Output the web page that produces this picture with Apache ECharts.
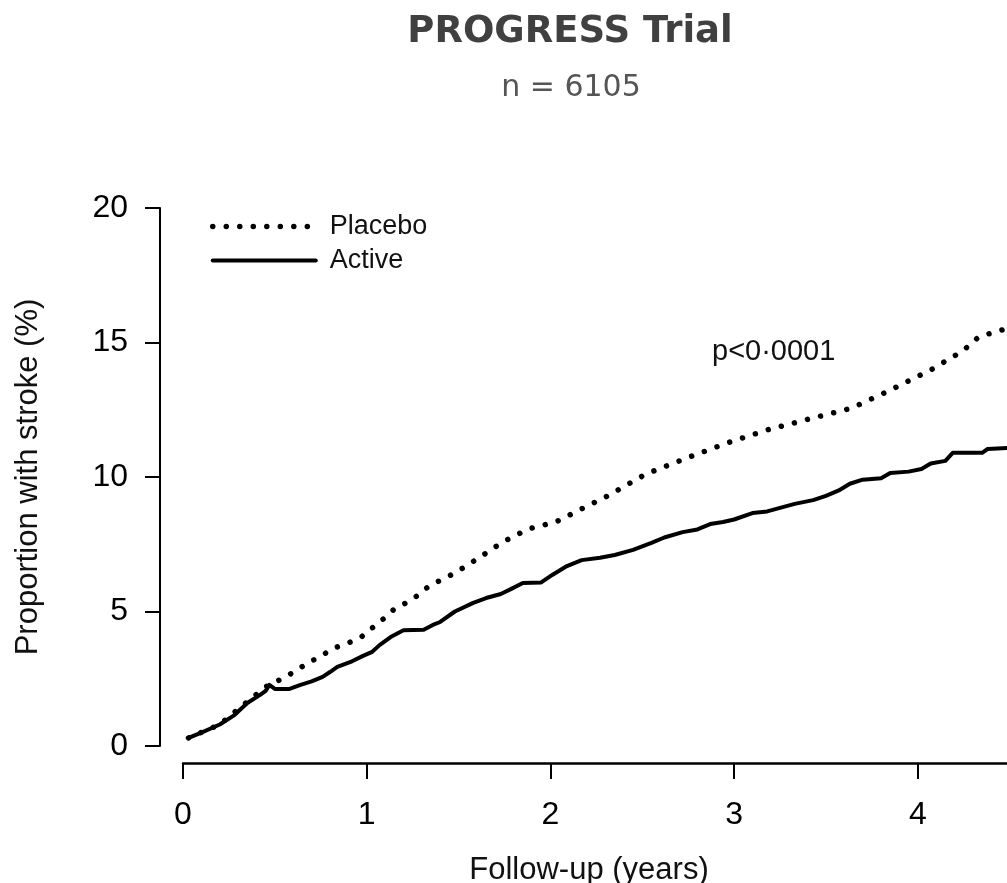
<!DOCTYPE html>
<html>
<head>
<meta charset="utf-8">
<script src="https://cdn.jsdelivr.net/npm/echarts@6/dist/echarts.min.js"></script>
<style>
  html, body { margin: 0; padding: 0; background: #fff; }
  #chart { width: 1007px; height: 883px; }
</style>
</head>
<body>
<div id="chart"></div>
<script>
// Cumulative stroke incidence (%) by follow-up time (years)
const placebo = [
  [0.03, 0.3], [0.2, 0.8], [0.35, 1.65], [0.45, 2.2], [0.56, 2.57], [0.62, 2.83],
  [0.69, 3.12], [0.76, 3.38], [0.82, 3.64], [0.9, 3.83], [0.97, 4.05], [1.03, 4.39],
  [1.09, 4.72], [1.15, 5.09], [1.25, 5.45], [1.34, 5.95], [1.48, 6.43], [1.61, 6.99],
  [1.74, 7.58], [1.88, 8.07], [2.03, 8.33], [2.18, 8.85], [2.31, 9.29], [2.52, 10.11],
  [2.74, 10.7], [2.96, 11.26], [3.18, 11.75], [3.41, 12.16], [3.64, 12.56], [3.85, 13.23],
  [4.07, 13.98], [4.2, 14.5], [4.27, 14.83], [4.33, 15.2], [4.4, 15.35], [4.5, 15.55]
];
const active = [
  [0.03, 0.3], [0.1, 0.5], [0.2, 0.8], [0.28, 1.15], [0.35, 1.6], [0.42, 1.9], [0.45, 2.05],
  [0.47, 2.27], [0.5, 2.12], [0.58, 2.12], [0.64, 2.27], [0.7, 2.4], [0.76, 2.57], [0.8, 2.75],
  [0.84, 2.94], [0.92, 3.15], [0.98, 3.35], [1.03, 3.5], [1.07, 3.75], [1.13, 4.05], [1.2, 4.3],
  [1.31, 4.32], [1.36, 4.5], [1.4, 4.61], [1.48, 5.0], [1.58, 5.32], [1.65, 5.5], [1.73, 5.65],
  [1.79, 5.85], [1.85, 6.06], [1.95, 6.08], [2.01, 6.36], [2.09, 6.69], [2.17, 6.91], [2.27, 7.0],
  [2.35, 7.1], [2.45, 7.29], [2.55, 7.55], [2.62, 7.75], [2.72, 7.95], [2.8, 8.05], [2.87, 8.25],
  [2.94, 8.33], [3.0, 8.42], [3.1, 8.66], [3.18, 8.72], [3.25, 8.85], [3.33, 9.0], [3.43, 9.14],
  [3.5, 9.3], [3.57, 9.5], [3.63, 9.75], [3.7, 9.9], [3.8, 9.95], [3.85, 10.15], [3.95, 10.2],
  [4.02, 10.3], [4.07, 10.5], [4.15, 10.6], [4.19, 10.9], [4.35, 10.9], [4.38, 11.04], [4.5, 11.08]
];
const seriesNames = ['Placebo', 'Active'];
const yTicks = [0, 5, 10, 15, 20];
const xTicks = [0, 1, 2, 3, 4, 5];

const chart = echarts.init(document.getElementById('chart'), null, { renderer: 'canvas' });

const axisFont = '"Liberation Sans", Arial, sans-serif';
const headFont = '"DejaVu Sans", sans-serif';

const dottedStyle = { color: '#000', width: 5.5, type: [0.01, 13.5], cap: 'round' };
const solidStyle = { color: '#000', width: 4, type: 'solid', cap: 'round', join: 'round' };

chart.setOption({
  animation: false,
  backgroundColor: '#ffffff',
  title: [
    {
      text: 'PROGRESS Trial',
      left: 565, top: 9, textAlign: 'center',
      textStyle: { fontFamily: headFont, fontWeight: 'bold', fontSize: 37, color: '#404040' }
    },
    {
      text: 'n = 6105',
      left: 566, top: 68, textAlign: 'center',
      textStyle: { fontFamily: headFont, fontWeight: 'normal', fontSize: 30, color: '#555555' }
    },
    {
      text: 'Follow-up (years)',
      left: 584, top: 850, textAlign: 'center',
      textStyle: { fontFamily: axisFont, fontWeight: 'normal', fontSize: 31, color: '#111' }
    },
    {
      text: 'p<0·0001',
      left: 707, top: 332,
      textStyle: { fontFamily: axisFont, fontWeight: 'normal', fontSize: 29, color: '#111' }
    }
  ],
  legend: {
    data: [
      { name: seriesNames[0], lineStyle: dottedStyle },
      { name: seriesNames[1], lineStyle: solidStyle }
    ],
    orient: 'vertical',
    left: 210, top: 213, padding: 0,
    itemWidth: 103, itemHeight: 14, itemGap: 7,
    itemStyle: { opacity: 0 },
    textStyle: { fontFamily: axisFont, fontSize: 27, color: '#111', padding: [0, 0, 0, 9] }
  },
  grid: { left: 183, top: 208, width: 918.5, bottom: 137, outerBoundsMode: 'none', containLabel: false },
  xAxis: {
    type: 'value', min: 0, max: 5, interval: 1,
    offset: 17,
    splitLine: { show: false },
    axisLine: { show: true, onZero: false, lineStyle: { color: '#000', width: 2.5 } },
    axisTick: { show: true, length: 16, lineStyle: { color: '#000', width: 2 } },
    axisLabel: {
      margin: 36, fontFamily: axisFont, fontSize: 32, color: '#000',
      formatter: v => xTicks.includes(v) ? String(v) : ''
    }
  },
  yAxis: {
    type: 'value', min: 0, max: 20, interval: 5,
    offset: 23,
    name: 'Proportion with stroke (%)',
    nameLocation: 'middle', nameRotate: 90, nameGap: 116,
    nameTextStyle: { fontFamily: axisFont, fontSize: 31, color: '#111' },
    splitLine: { show: false },
    axisLine: { show: true, onZero: false, lineStyle: { color: '#000', width: 2 } },
    axisTick: { show: true, length: 15, lineStyle: { color: '#000', width: 2 } },
    axisLabel: {
      margin: 32, fontFamily: axisFont, fontSize: 32, color: '#000',
      formatter: v => yTicks.includes(v) ? String(v) : ''
    }
  },
  series: [
    {
      name: seriesNames[0], type: 'line', data: placebo,
      showSymbol: false, symbol: 'none',
      lineStyle: dottedStyle,
      itemStyle: { color: '#000' },
      z: 2
    },
    {
      name: seriesNames[1], type: 'line', data: active,
      showSymbol: false, symbol: 'none',
      lineStyle: solidStyle,
      itemStyle: { color: '#000' },
      z: 3
    }
  ]
});
</script>
</body>
</html>
